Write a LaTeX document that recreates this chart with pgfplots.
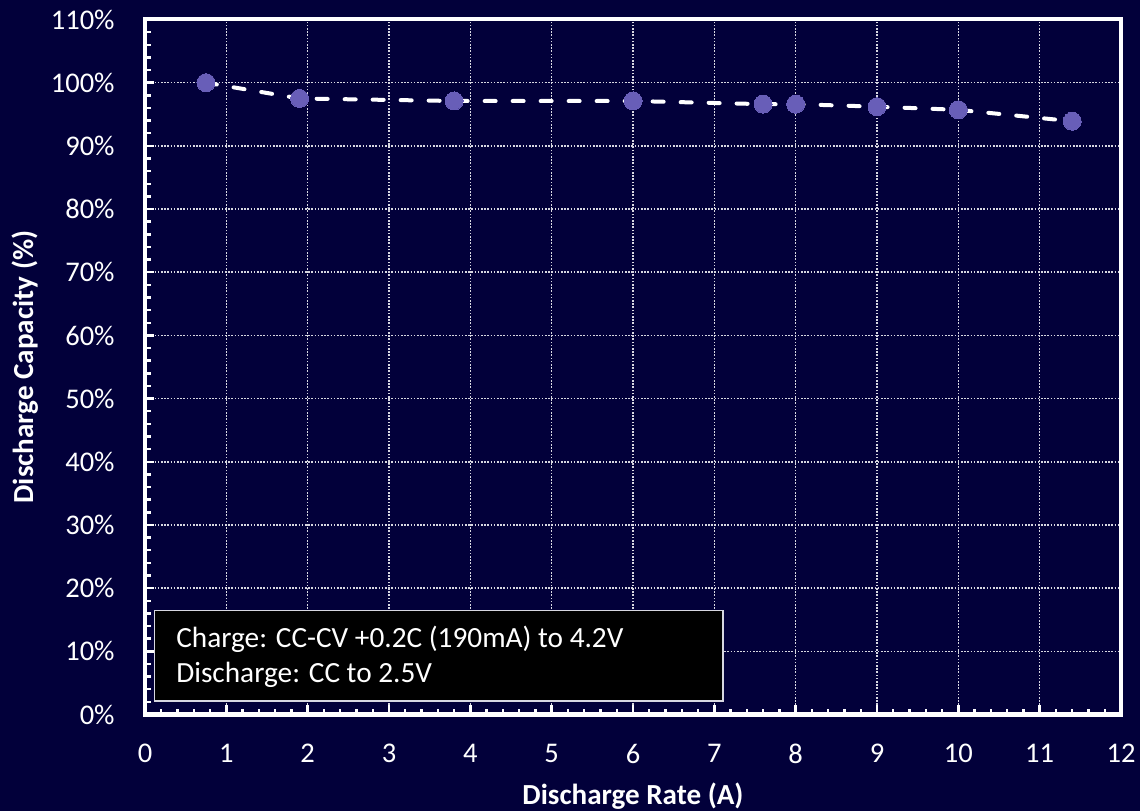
\documentclass[border=0pt]{standalone}
\usepackage{fontspec}
\setmainfont{Carlito}
\usepackage{pgfplots}
\pgfplotsset{compat=1.18}
\definecolor{bgc}{RGB}{2,0,58}
\definecolor{markc}{RGB}{104,94,184}
\definecolor{gridc}{RGB}{215,215,225}
\begin{document}
\begin{tikzpicture}
\useasboundingbox (-72.5bp,-48.25bp) rectangle (497.5bp,357.25bp);
\fill[bgc] (-72.5bp,-48.25bp) rectangle (497.5bp,357.25bp);
\begin{axis}[
  at={(0,0)}, anchor=south west,
  scale only axis, width=488bp, height=347.5bp,
  xmin=0, xmax=12, ymin=0, ymax=110,
  xtick={0,...,12}, ytick={0,10,...,110},
  minor x tick num=4, minor y tick num=4,
  xtick pos=bottom, ytick pos=left,
  tick align=inside,
  axis line style={white, line width=2bp},
  every tick/.style={white, line width=1.2bp},
  major tick length=4.5bp, minor tick length=2.8bp,
  grid=major,
  major grid style={gridc, line width=0.8bp, dash pattern=on 0.8bp off 0.8bp},
  /pgf/number format/assume math mode=true,
  ticklabel style={font=\fontsize{14.3}{17}\selectfont, text=white, inner sep=0pt},
  xticklabel style={anchor=north, yshift=-14.75bp},
  yticklabel style={anchor=east, xshift=-15bp},
  yticklabel={\pgfmathprintnumber{\tick}\%},
  xlabel={Discharge Rate (A)}, ylabel={Discharge Capacity (\%)},
  label style={font=\bfseries\fontsize{14.6}{17}\selectfont, text=white, inner sep=0pt},
  xlabel style={at={(axis description cs:0.5,-0.12878)}, anchor=base},
  ylabel style={at={(axis description cs:-0.11475,0.5)}, anchor=base},
]
\addplot[white, line width=2bp, dash pattern=on 5.5bp off 8.5bp, line cap=round,
  mark=*, mark size=4.5bp, mark options={solid, fill=markc, draw=markc, line width=0pt}]
  coordinates {(0.75,100) (1.9,97.5) (3.8,97.1) (6,97.1) (7.6,96.6) (8,96.6) (9,96.2) (10,95.7) (11.4,93.9)};
\draw[fill=black, draw=gridc, line width=0.8bp] (axis cs:0.117,2.14) rectangle (axis cs:7.107,16.46);
\node[anchor=base west, inner sep=0pt, text=white, font=\fontsize{14.7}{17}\selectfont] at (axis cs:0.38,10.68) {Charge: CC-CV +0.2C (190mA) to 4.2V};
\node[anchor=base west, inner sep=0pt, text=white, font=\fontsize{14.7}{17}\selectfont] at (axis cs:0.38,5.14) {Discharge: CC to 2.5V};
\end{axis}
\end{tikzpicture}
\end{document}
